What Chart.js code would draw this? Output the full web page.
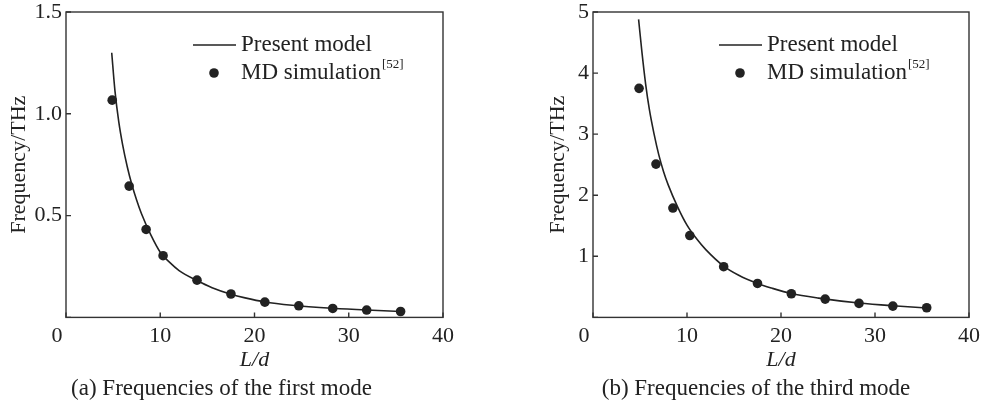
<!DOCTYPE html>
<html>
<head>
<meta charset="utf-8">
<script src="https://cdn.jsdelivr.net/npm/chart.js@4.4.1/dist/chart.umd.min.js"></script>
<style>
  body { margin: 0; background: #fff; }
  .panel { position: absolute; top: 0; }
</style>
</head>
<body>
<canvas id="firstMode" class="panel" width="493" height="407" style="left:0"></canvas>
<canvas id="thirdMode" class="panel" width="493" height="407" style="left:493px"></canvas>
<script>
// L/d of the MD points
const mdX = [4.9, 6.7, 8.5, 10.3, 13.9, 17.5, 21.1, 24.7, 28.3, 31.9, 35.5];
const mdFirst = [1.067, 0.645, 0.432, 0.303, 0.183, 0.115, 0.075, 0.057, 0.044, 0.036, 0.029];
const mdThird = [3.75, 2.51, 1.79, 1.34, 0.83, 0.556, 0.387, 0.30, 0.229, 0.185, 0.158];

// present model curve
const modelX = [4.85, 5.2, 5.6, 6.0, 6.5, 7.0, 7.5, 8.0, 9.0, 10.0, 11.0, 12.0, 13.9, 15.5, 17.5, 19.0, 21.1, 24.0, 28.3, 31.9, 35.5];
const modelFirst = [1.30, 1.11, 0.96, 0.85, 0.74, 0.65, 0.575, 0.51, 0.405, 0.32, 0.27, 0.23, 0.181, 0.146, 0.114, 0.096, 0.076, 0.060, 0.045, 0.036, 0.029];
const modelThird = [4.88, 4.35, 3.82, 3.40, 3.00, 2.66, 2.39, 2.17, 1.81, 1.51, 1.29, 1.11, 0.84, 0.69, 0.556, 0.48, 0.39, 0.315, 0.235, 0.19, 0.155];

const xTicks = [0, 10, 20, 30, 40];

const serif = '"Liberation Serif", "DejaVu Serif", serif';
const ink = '#222';

function pairs(xs, ys) {
	return xs.map((x, i) => ({x: x, y: ys[i]}));
}

// box around the plot, inward ticks, the shifted "0" and the legend
const framePlugin = {
	id: 'frame',
	afterDraw(chart) {
		const ctx = chart.ctx;
		const a = chart.chartArea;
		const sx = chart.scales.x, sy = chart.scales.y;
		ctx.save();
		ctx.strokeStyle = '#333';
		ctx.lineWidth = 1.4;
		ctx.strokeRect(a.left, a.top, a.right - a.left, a.bottom - a.top);
		ctx.beginPath();
		sx.ticks.forEach(t => {
			const px = sx.getPixelForValue(t.value);
			ctx.moveTo(px, a.bottom); ctx.lineTo(px, a.bottom - 5);
		});
		sy.ticks.forEach(t => {
			const py = sy.getPixelForValue(t.value);
			ctx.moveTo(a.left, py); ctx.lineTo(a.left + 5, py);
		});
		ctx.stroke();

		ctx.fillStyle = ink;
		ctx.textBaseline = 'middle';
		ctx.textAlign = 'center';
		ctx.font = '22px ' + serif;
		ctx.fillText('0', sx.getPixelForValue(0) - 9, a.bottom + 19);

		// legend
		ctx.strokeStyle = ink;
		ctx.lineWidth = 1.6;
		ctx.beginPath();
		ctx.moveTo(a.right - 250, a.top + 33);
		ctx.lineTo(a.right - 207, a.top + 33);
		ctx.stroke();
		ctx.beginPath();
		ctx.arc(a.right - 229, a.top + 61, 4.8, 0, Math.PI * 2);
		ctx.fill();
		ctx.textAlign = 'left';
		ctx.font = '23px ' + serif;
		ctx.fillText('Present model', a.right - 202, a.top + 33);
		ctx.fillText('MD simulation', a.right - 202, a.top + 61);
		const w = ctx.measureText('MD simulation').width;
		ctx.font = '13px ' + serif;
		ctx.fillText('[52]', a.right - 201 + w, a.top + 53);
		ctx.restore();
	}
};

function makePanel(id, modelY, mdY, yMax, yStep, padLeft, yWidth, padRight, caption, fmt) {
	const ctx = document.getElementById(id).getContext('2d');
	return new Chart(ctx, {
		type: 'scatter',
		data: {
			datasets: [
				{
					label: 'Present model',
					data: pairs(modelX, modelY),
					showLine: true,
					borderColor: ink,
					borderWidth: 1.6,
					pointRadius: 0,
					cubicInterpolationMode: 'monotone',
				},
				{
					label: 'MD simulation',
					data: pairs(mdX, mdY),
					showLine: false,
					pointRadius: 4.8,
					pointBackgroundColor: ink,
					pointBorderWidth: 0,
				},
			],
		},
		options: {
			responsive: false,
			animation: false,
			devicePixelRatio: 1,
			layout: { padding: { left: padLeft, right: padRight, top: 12, bottom: 0 } },
			plugins: {
				legend: { display: false },
				tooltip: { enabled: false },
				title: {
					display: true,
					position: 'bottom',
					text: caption,
					color: ink,
					font: { family: serif, size: 23, weight: 'normal' },
					padding: { top: 0, bottom: 4 },
				},
			},
			scales: {
				x: {
					type: 'linear',
					min: 0, max: 40,
					afterBuildTicks: s => { s.ticks = xTicks.map(v => ({value: v})); },
					grid: { display: false, drawTicks: false },
					border: { display: false },
					ticks: {
						color: ink, padding: 6, font: { family: serif, size: 22 },
						callback: v => (v === 0 ? '' : String(v)),
					},
					title: {
						display: true, text: 'L/d', color: ink,
						font: { family: serif, size: 22, style: 'italic' },
						padding: { top: 0, bottom: 2 },
					},
					afterFit: s => { s.height = 58; },
				},
				y: {
					min: 0, max: yMax,
					grid: { display: false, drawTicks: false },
					border: { display: false },
					ticks: {
						stepSize: yStep, color: ink, padding: 4,
						font: { family: serif, size: 22 },
						callback: v => (v === 0 ? '' : fmt(v)),
					},
					title: {
						display: true, text: 'Frequency/THz', color: ink,
						font: { family: serif, size: 22 },
						padding: { top: 6, bottom: 0 },
					},
					afterFit: s => { s.width = yWidth; s.paddingTop = 0; s.paddingBottom = 0; },
				},
			},
		},
		plugins: [framePlugin],
	});
}

makePanel('firstMode', modelFirst, mdFirst, 1.5, 0.5, 0, 66, 50,
	'(a) Frequencies of the first mode', v => v.toFixed(1));
makePanel('thirdMode', modelThird, mdThird, 5, 1, 46, 54, 13,
	'(b) Frequencies of the third mode', v => String(v));
</script>
</body>
</html>
